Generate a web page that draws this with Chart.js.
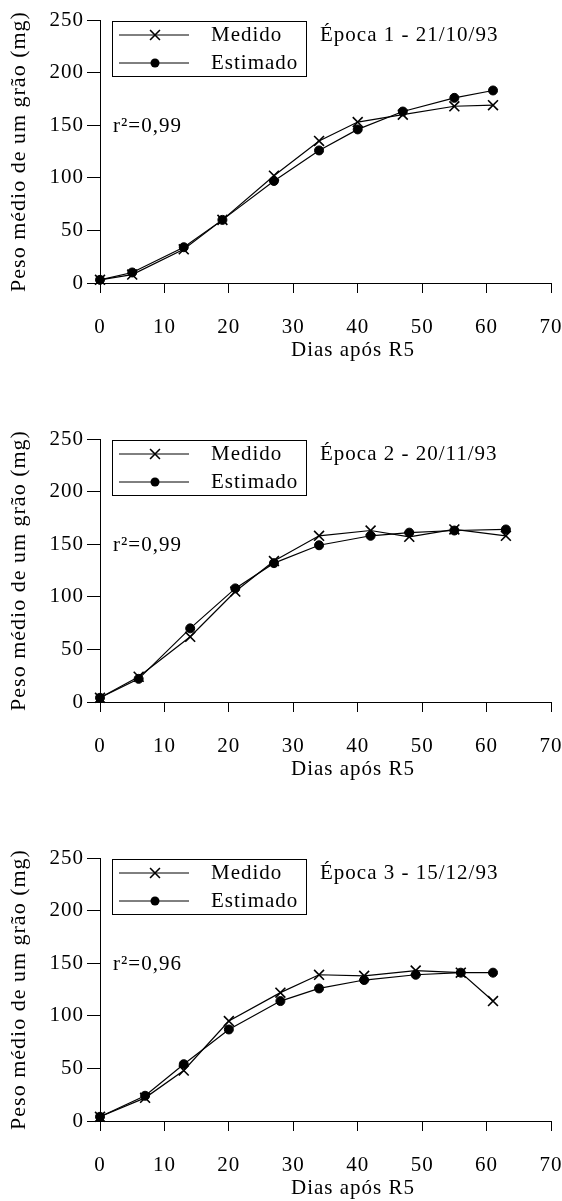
<!DOCTYPE html>
<html>
<head>
<meta charset="utf-8">
<script src="https://cdn.jsdelivr.net/npm/chart.js@4.4.1/dist/chart.umd.min.js"></script>
<style>
  html, body { margin: 0; padding: 0; background: #fff; overflow: hidden; }
  .panel { position: absolute; left: 0; width: 562px; height: 363px; }
</style>
</head>
<body>
<div class="panel" style="top:0"><canvas id="c1" width="562" height="363"></canvas></div>
<div class="panel" style="top:419px"><canvas id="c2" width="562" height="363"></canvas></div>
<div class="panel" style="top:838px"><canvas id="c3" width="562" height="363"></canvas></div>
<script>
// values
const seriesLabels = ['Medido', 'Estimado'];
const xTitle = 'Dias após R5';
const yTitle = 'Peso médio de um grão (mg)';

const days1 = [0, 5, 13, 19, 27, 34, 40, 47, 55, 61];
const medido1 = [3, 8, 32, 60, 102, 135, 153, 160, 168, 169];
const estimado1 = [3, 10, 34, 60, 97, 126, 146, 163, 176, 183];

const days2 = [0, 6, 14, 21, 27, 34, 42, 48, 55, 63];
const medido2 = [4, 24, 62, 105, 134, 158, 163, 157, 164, 158];
const estimado2 = [4, 22, 70, 108, 132, 149, 158, 161, 163, 164];

const days3 = [0, 7, 13, 20, 28, 34, 41, 49, 56, 61];
const medido3 = [4, 22, 48, 95, 122, 139, 138, 143, 141, 114];
const estimado3 = [4, 24, 54, 87, 114, 126, 134, 139, 141, 141];

const epocas = ['Época 1 - 21/10/93', 'Época 2 - 20/11/93', 'Época 3 - 15/12/93'];
const r2Labels = ['r²=0,99', 'r²=0,99', 'r²=0,96'];

const xMin = 0, xMax = 70, xStep = 10;
const yMin = 0, yMax = 250, yStep = 50;

const FAMILY = '"Liberation Serif", "Times New Roman", serif';
const FONT = '21px ' + FAMILY;

function drawMarker(ctx, style, x, y, r) {
    ctx.beginPath();
    if (style === 'crossRot') {
        const d = r * Math.SQRT1_2;
        ctx.moveTo(x - d, y - d); ctx.lineTo(x + d, y + d);
        ctx.moveTo(x - d, y + d); ctx.lineTo(x + d, y - d);
        ctx.stroke();
    } else {
        ctx.arc(x, y, r, 0, Math.PI * 2);
        ctx.fill();
    }
}

const panelText = {
    id: 'panelText',
    beforeDraw(chart) {
        chart.ctx.letterSpacing = '1px';
    },
    afterDraw(chart, args, opts) {
        const { ctx, chartArea: a } = chart;
        ctx.save();
        ctx.letterSpacing = '1px';
        ctx.fillStyle = '#000';
        ctx.strokeStyle = '#000';
        ctx.font = FONT;
        ctx.textBaseline = 'middle';
        ctx.textAlign = 'left';

        // legend box
        ctx.lineWidth = 1;
        ctx.strokeRect(a.left + 12.5, a.top + 1.5, 194, 55);
        chart.data.datasets.forEach((ds, i) => {
            const y = a.top + 15 + i * 28;
            ctx.lineWidth = 1;
            ctx.beginPath();
            ctx.moveTo(a.left + 19, y);
            ctx.lineTo(a.left + 89, y);
            ctx.stroke();
            ctx.lineWidth = 1.6;
            drawMarker(ctx, ds.pointStyle, a.left + 55, y, ds.pointRadius);
            ctx.fillText(ds.label, a.left + 111, y);
        });

        ctx.fillText(opts.epoca, a.left + 220, a.top + 15);
        ctx.fillText(opts.r2, a.left + 13, a.top + 106);

        // x axis title, sits right of centre in the original
        ctx.textAlign = 'center';
        ctx.fillText(xTitle, 353, 350);
        ctx.restore();
    }
};

function makeChart(id, days, medido, estimado, epoca, r2) {
    const tickFont = { family: FAMILY, size: 21 };
    return new Chart(document.getElementById(id), {
        type: 'line',
        data: {
            datasets: [
                {
                    label: seriesLabels[0],
                    data: days.map((d, i) => ({ x: d, y: medido[i] })),
                    borderColor: '#000', backgroundColor: '#000',
                    borderWidth: 1.2, pointStyle: 'crossRot', pointRadius: 7,
                    pointBorderWidth: 1.6, tension: 0, clip: false
                },
                {
                    label: seriesLabels[1],
                    data: days.map((d, i) => ({ x: d, y: estimado[i] })),
                    borderColor: '#000', backgroundColor: '#000',
                    borderWidth: 1.2, pointStyle: 'circle', pointRadius: 4.5,
                    pointBorderWidth: 1, tension: 0, clip: false
                }
            ]
        },
        options: {
            responsive: false,
            animation: false,
            layout: { padding: { top: 20, right: 11, left: 0, bottom: 0 } },
            plugins: {
                legend: { display: false },
                tooltip: { enabled: false },
                panelText: { epoca: epoca, r2: r2 }
            },
            scales: {
                x: {
                    type: 'linear', min: xMin, max: xMax,
                    ticks: { stepSize: xStep, color: '#000', font: tickFont, padding: 22, maxRotation: 0 },
                    grid: { drawOnChartArea: false, color: '#000', tickLength: 10, lineWidth: 1 },
                    border: { color: '#000', width: 1 },
                    afterFit(s) { s.height = 80; s.paddingLeft = 0; s.paddingRight = 0; }
                },
                y: {
                    min: yMin, max: yMax,
                    ticks: { stepSize: yStep, color: '#000', font: tickFont, padding: 3 },
                    grid: { drawOnChartArea: false, color: '#000', tickLength: 13, lineWidth: 1 },
                    border: { color: '#000', width: 1 },
                    title: { display: true, text: yTitle, color: '#000', font: { family: FAMILY, size: 22 }, padding: { top: 6, bottom: 0 } },
                    afterFit(s) { s.width = 100; s.paddingTop = 0; s.paddingBottom = 0; }
                }
            }
        },
        plugins: [panelText]
    });
}

makeChart('c1', days1, medido1, estimado1, epocas[0], r2Labels[0]);
makeChart('c2', days2, medido2, estimado2, epocas[1], r2Labels[1]);
makeChart('c3', days3, medido3, estimado3, epocas[2], r2Labels[2]);
</script>
</body>
</html>
